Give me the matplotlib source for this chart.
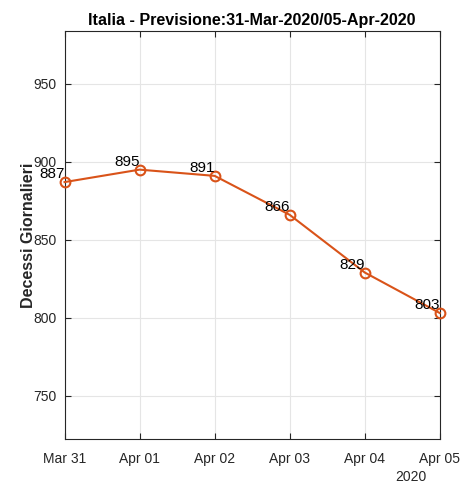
import numpy as np
import matplotlib
matplotlib.use('Agg')
import matplotlib.pyplot as plt
import matplotlib.dates as mdates
import datetime as dt


dates = [dt.date(2020, 3, 31), dt.date(2020, 4, 1), dt.date(2020, 4, 2),
         dt.date(2020, 4, 3), dt.date(2020, 4, 4), dt.date(2020, 4, 5)]
deaths = [887, 895, 891, 866, 829, 803]
tick_labels = ['Mar 31', 'Apr 01', 'Apr 02', 'Apr 03', 'Apr 04', 'Apr 05']
y_ticks = [750, 800, 850, 900, 950]

plt.rcParams['font.family'] = ['Liberation Sans', 'DejaVu Sans']

fig = plt.figure(figsize=(4.61, 4.83), dpi=100)
ax = fig.add_axes([0.140, 0.0905, 0.814, 0.8455])

line_col = '#D95319'
ax.plot(dates, deaths, '-o', color=line_col, lw=1.5, ms=7,
        mfc='none', mew=1.5, clip_on=False, zorder=3)

for d, v in zip(dates, deaths):
    ax.text(d, v + 0.5, str(v), ha='right', va='bottom', fontsize=11, color='black')

ax.set_xlim(dates[0], dates[-1])
ax.set_ylim(722, 984)
ax.set_xticks(dates)
ax.set_xticklabels(tick_labels)
ax.set_yticks(y_ticks)

axis_col = '#262626'
for s in ax.spines.values():
    s.set_color(axis_col)
    s.set_linewidth(0.8)
ax.tick_params(direction='in', length=4, width=0.8, colors=axis_col,
               top=True, right=True, labelsize=10, pad=9)
ax.tick_params(axis='y', pad=6)
ax.grid(True, color='#e5e5e5', lw=0.8)
ax.set_axisbelow(True)

ax.set_ylabel('Decessi Giornalieri', fontsize=11.5, fontweight='bold', color=axis_col)
ax.yaxis.set_label_coords(-0.076, 0.5)
ax.set_title('Italia - Previsione:31-Mar-2020/05-Apr-2020', fontsize=11.6,
             fontweight='bold', pad=4)
ax.text(0.965, -0.075, '2020', transform=ax.transAxes, ha='right', va='top',
        fontsize=10, color=axis_col)

fig.savefig('out.png', dpi=100)
